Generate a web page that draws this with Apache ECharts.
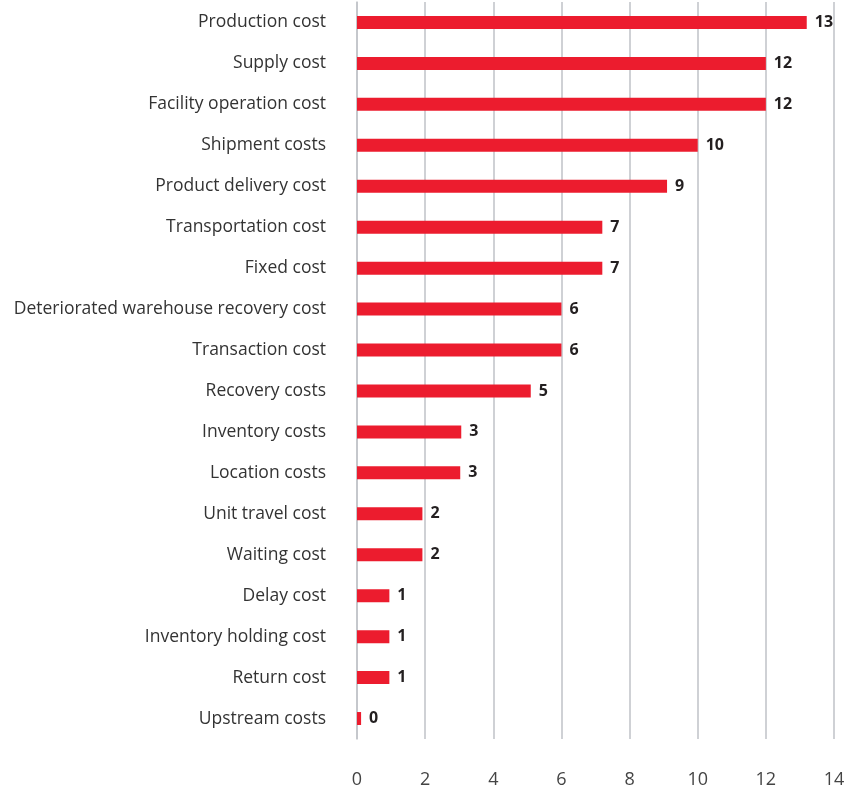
<!DOCTYPE html>
<html>
<head>
<meta charset="utf-8">
<style>
  html, body { margin: 0; padding: 0; background: #ffffff; }
  #chart { width: 851px; height: 796px; }
</style>
<script src="https://cdn.jsdelivr.net/npm/echarts@6/dist/echarts.min.js"></script>
</head>
<body>
<div id="chart"></div>
<script>
// Cost categories, listed top to bottom
const categories = [
  'Production cost',
  'Supply cost',
  'Facility operation cost',
  'Shipment costs',
  'Product delivery cost',
  'Transportation cost',
  'Fixed cost',
  'Deteriorated warehouse recovery cost',
  'Transaction cost',
  'Recovery costs',
  'Inventory costs',
  'Location costs',
  'Unit travel cost',
  'Waiting cost',
  'Delay cost',
  'Inventory holding cost',
  'Return cost',
  'Upstream costs'
];

// Values per category (labels show them rounded to whole numbers)
const values = [13.2, 12.0, 12.0, 10.0, 9.1, 7.2, 7.2, 6.0, 6.0, 5.1, 3.06, 3.03, 1.92, 1.92, 0.95, 0.95, 0.95, 0.12];

// Value axis ticks
const xTicks = [0, 2, 4, 6, 8, 10, 12, 14];

const chart = echarts.init(document.getElementById('chart'), null, { renderer: 'canvas' });

const font = '"Open Sans", Roboto, sans-serif';

chart.setOption({
  animation: false,
  grid: { left: 357, right: 17, top: 2, bottom: 57, containLabel: false },
  xAxis: {
    type: 'value',
    min: xTicks[0],
    max: xTicks[xTicks.length - 1],
    interval: 2,
    axisLine: { show: false },
    axisTick: { show: false },
    splitLine: { show: true, lineStyle: { color: '#c3c6cb', width: 1.6 } },
    axisLabel: { color: '#444444', fontSize: 18, fontFamily: font, margin: 32 }
  },
  yAxis: {
    type: 'category',
    data: categories,
    inverse: true,
    axisLine: { show: true, lineStyle: { color: '#c3c6cb', width: 1.6 } },
    axisTick: { show: false },
    axisLabel: { color: '#333333', fontSize: 17.5, fontFamily: font, margin: 31 }
  },
  series: [{
    type: 'bar',
    data: values,
    barWidth: 13,
    itemStyle: { color: '#ec1c2e' },
    label: {
      show: true,
      position: 'right',
      distance: 8,
      color: '#231f20',
      fontSize: 16,
      fontWeight: 'bold',
      fontFamily: font,
      formatter: p => String(Math.round(p.value))
    }
  }]
});
</script>
</body>
</html>
